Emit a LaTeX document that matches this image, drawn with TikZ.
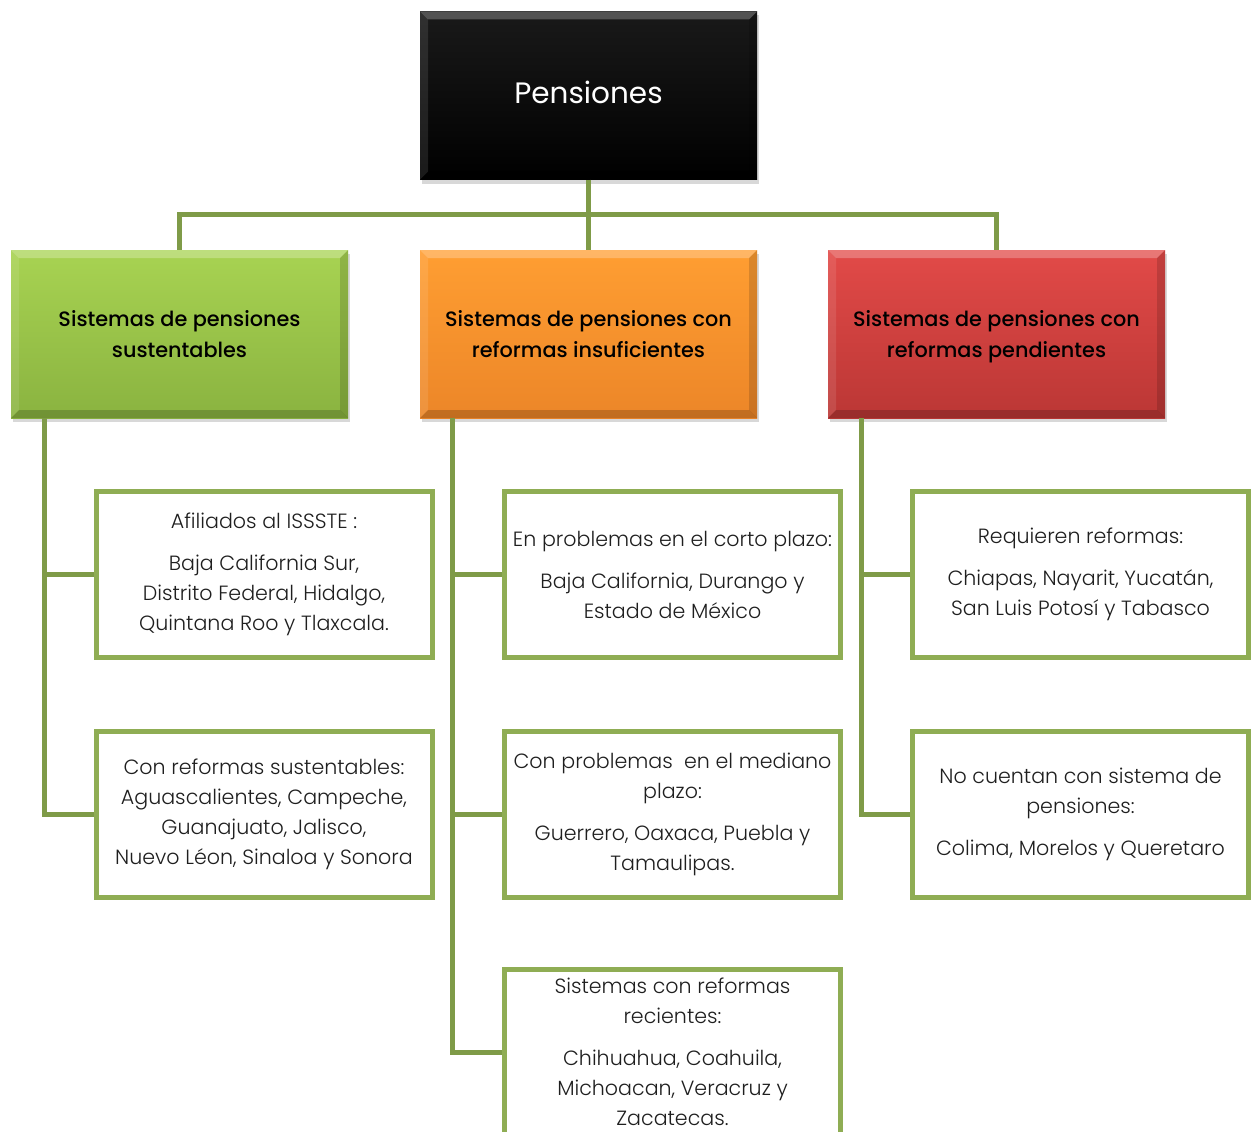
\documentclass[tikz,border=0pt]{standalone}
\usepackage{fontspec}
\setmainfont{Poppins}
\newfontfamily\lightfont{Poppins}[UprightFont=* Light]
\newfontfamily\mediumfont{Poppins}[UprightFont=* Medium]
\usetikzlibrary{shadows}
\definecolor{conn}{HTML}{7F9B48}
\definecolor{bord}{HTML}{8FAD54}
\definecolor{gtop}{HTML}{A8D352}
\definecolor{gbot}{HTML}{8AB340}
\definecolor{otop}{HTML}{FF9E32}
\definecolor{obot}{HTML}{EC8628}
\definecolor{rtop}{HTML}{E24A48}
\definecolor{rbot}{HTML}{BB3735}
\tikzset{
  bevel/.style={path picture={
    \fill[white,opacity=.25] (path picture bounding box.north west) -- (path picture bounding box.north east)
      -- ([xshift=-8pt,yshift=-8pt]path picture bounding box.north east) -- ([xshift=8pt,yshift=-8pt]path picture bounding box.north west) -- cycle;
    \fill[white,opacity=.10] (path picture bounding box.north west) -- (path picture bounding box.south west)
      -- ([xshift=8pt,yshift=8pt]path picture bounding box.south west) -- ([xshift=8pt,yshift=-8pt]path picture bounding box.north west) -- cycle;
    \fill[black,opacity=.14] (path picture bounding box.north east) -- (path picture bounding box.south east)
      -- ([xshift=-8pt,yshift=8pt]path picture bounding box.south east) -- ([xshift=-8pt,yshift=-8pt]path picture bounding box.north east) -- cycle;
    \fill[black,opacity=.18] (path picture bounding box.south west) -- (path picture bounding box.south east)
      -- ([xshift=-8pt,yshift=8pt]path picture bounding box.south east) -- ([xshift=8pt,yshift=8pt]path picture bounding box.south west) -- cycle;
  }},
  headbox/.style={minimum width=337pt, minimum height=168pt, inner sep=0pt, align=center,
    bevel, drop shadow={shadow xshift=2pt, shadow yshift=-4pt, opacity=.3},
    font=\mediumfont\fontsize{20.8}{31}\selectfont, text=black, text depth=0pt},
  infobox/.style={draw=bord, line width=5pt, fill=white, minimum width=336pt, minimum height=166pt,
    inner sep=0pt, align=center, font=\lightfont\fontsize{20.6}{30}\selectfont, text=black!88},
  connector/.style={draw=conn, line width=5pt},
  toplabel/.style={font=\fontsize{29.5}{34}\selectfont, text=white, inner sep=0pt},
}
\begin{document}
\begin{tikzpicture}[x=1pt,y=-1pt]
\useasboundingbox (0,0) rectangle (1254,1132);
\clip (0,0) rectangle (1254,1132);
\fill[white] (0,0) rectangle (1254,1132);
\coordinate (bus) at (588.5,214);
\node[headbox, top color=black!90, bottom color=black] (top) at (588.5,95.5) {};
\node[toplabel] (toptext) at ([yshift=3pt]top.center) {Pensiones};
\node[headbox, top color=gtop, bottom color=gbot] (green) at (179.5,334) {Sistemas de pensiones\\sustentables};
\node[headbox, top color=otop, bottom color=obot] (orange) at (588.5,334) {Sistemas de pensiones con\\reformas insuficientes};
\node[headbox, top color=rtop, bottom color=rbot] (red) at (996.5,334) {Sistemas de pensiones con\\reformas pendientes};

\node[infobox] (L1) at (264,574.5) {Afiliados al ISSSTE :\\[12pt]Baja California Sur,\\Distrito Federal, Hidalgo,\\Quintana Roo y Tlaxcala.};
\node[infobox] (L2) at (264,814) {Con reformas sustentables:\\Aguascalientes, Campeche,\\Guanajuato, Jalisco,\\Nuevo Léon, Sinaloa y Sonora};
\node[infobox] (M1) at (672.5,574.5) {En problemas en el corto plazo:\\[12pt]Baja California, Durango y\\Estado de México};
\node[infobox] (M2) at (672.5,814) {Con problemas\ \ en el mediano\\plazo:\\[12pt]Guerrero, Oaxaca, Puebla y\\Tamaulipas.};
\node[infobox] (M3) at (672.5,1052) {Sistemas con reformas\\recientes:\\[12pt]Chihuahua, Coahuila,\\Michoacan, Veracruz y\\Zacatecas.};
\node[infobox] (R1) at (1080.5,574.5) {Requieren reformas:\\[12pt]Chiapas, Nayarit, Yucatán,\\San Luis Potosí y Tabasco};
\node[infobox] (R2) at (1080.5,814) {No cuentan con sistema de\\pensiones:\\[12pt]Colima, Morelos y Queretaro};

\draw[connector] (top.south) -- (orange.north);
\draw[connector] (green.north) -- (green.north |- bus) -- (red.north |- bus) -- (red.north);

\coordinate (gv) at ([xshift=34pt]green.south west);
\coordinate (ov) at ([xshift=33pt]orange.south west);
\coordinate (rv) at ([xshift=34pt]red.south west);
\draw[connector] (gv) |- (L2.west);
\draw[connector] (gv |- L1.west) -- (L1.west);
\draw[connector] (ov) |- (M3.west);
\draw[connector] (ov |- M1.west) -- (M1.west);
\draw[connector] (ov |- M2.west) -- (M2.west);
\draw[connector] (rv) |- (R2.west);
\draw[connector] (rv |- R1.west) -- (R1.west);
\end{tikzpicture}
\end{document}
